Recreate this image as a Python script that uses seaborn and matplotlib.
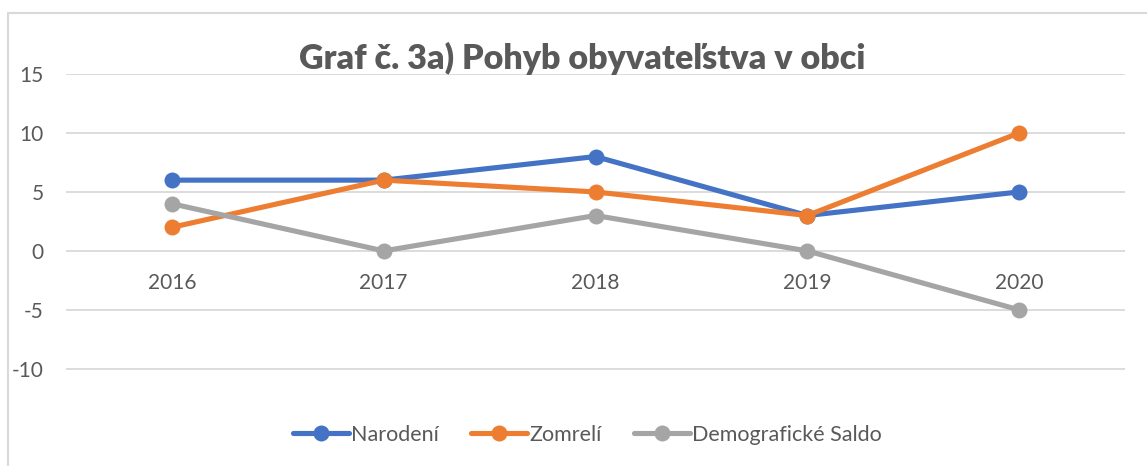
import pandas as pd
import matplotlib.pyplot as plt
import seaborn as sns
from matplotlib.patches import Rectangle

# data
roky = ['2016', '2017', '2018', '2019', '2020']
narodeni = [6, 6, 8, 3, 5]
zomreli = [2, 6, 5, 3, 10]
saldo = [4, 0, 3, 0, -5]
y_ticks = [-10, -5, 0, 5, 10, 15]

df = pd.DataFrame({
    'rok': roky * 3,
    'hodnota': narodeni + zomreli + saldo,
    'ukazovatel': ['Narodení'] * 5 + ['Zomrelí'] * 5 + ['Demografické Saldo'] * 5,
})

sns.set_style('white')
plt.rcParams['font.family'] = ['Lato', 'DejaVu Sans']
text_col = '#595959'
grid_col = '#D9D9D9'
farby = {'Narodení': '#4472C4', 'Zomrelí': '#ED7D31', 'Demografické Saldo': '#A5A5A5'}

fig = plt.figure(figsize=(11.47, 4.66), dpi=100)
ax = fig.add_axes([66 / 1147, 1 - 416 / 466, (1125 - 66) / 1147, (416 - 74) / 466])

sns.lineplot(data=df, x='rok', y='hodnota', hue='ukazovatel', palette=farby,
             marker='o', markersize=11.5, markeredgewidth=0, linewidth=3.7,
             sort=False, ax=ax, legend=True)

ax.set_xlim(-0.5, 4.5)
ax.set_ylim(-14, 15)
ax.set_yticks(y_ticks)
ax.set_yticklabels([str(t) for t in y_ticks], color=text_col, fontsize=15)
ax.tick_params(axis='y', length=0, pad=16)
ax.set_xticks([])
ax.set_xlabel('')
ax.set_ylabel('')
for s in ax.spines.values():
    s.set_visible(False)
for t in y_ticks:
    ax.axhline(t, color=grid_col, lw=1.3, zorder=0)

# year labels sit just under the zero line, like Excel does
for i, r in enumerate(roky):
    ax.annotate(r, (i, 0), xytext=(0, -23), textcoords='offset points',
                ha='center', va='center', color=text_col, fontsize=15)

fig.text(0.508, 1 - 58 / 466, 'Graf č. 3a) Pohyb obyvateľstva v obci',
         ha='center', va='center', fontsize=24.5, fontweight='heavy', color=text_col)

handles, labels = ax.get_legend_handles_labels()
ax.legend(handles, labels, loc='center', bbox_to_anchor=(0.512, 1 - 435 / 466),
          bbox_transform=fig.transFigure, ncol=3, frameon=False, fontsize=15.5,
          handlelength=2.6, handletextpad=0.1, columnspacing=1.5, labelcolor=text_col)

# chart border (cut off on the right and bottom)
fig.patches.append(Rectangle((8 / 1147, -0.1), 1.2, 1.1 - 13 / 466,
                             transform=fig.transFigure, fill=False,
                             edgecolor=grid_col, lw=1.5))

fig.savefig('out.png', dpi=100)
